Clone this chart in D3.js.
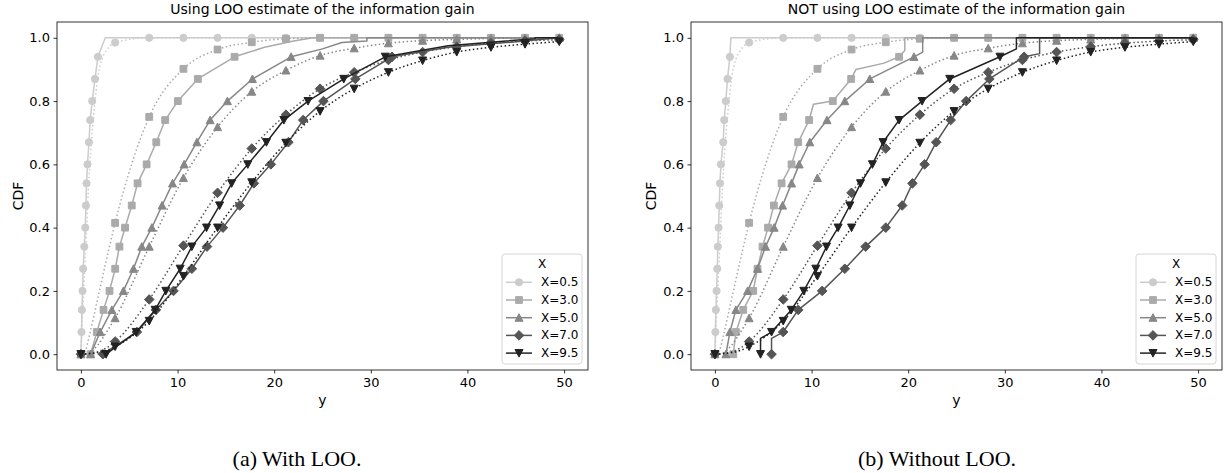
<!DOCTYPE html>
<html>
<head>
<meta charset="utf-8">
<script src="https://cdn.jsdelivr.net/npm/d3@7"></script>
<style>
  body { margin: 0; background: #fff; }
  svg text { font-family: "DejaVu Sans", sans-serif; fill: #000; }
</style>
</head>
<body>
<svg id="chart" width="1228" height="473"></svg>
<script>
// series names (legend) and their grey levels
const seriesNames = ["X=0.5", "X=3.0", "X=5.0", "X=7.0", "X=9.5"];
const seriesColors = ["#cccccc", "#aaaaaa", "#878787", "#555555", "#222222"];
const seriesShapes = ["circle", "square", "triangle", "diamond", "triangleDown"];

// CDF levels where the empirical curves carry a marker
const levels = [0, 0.07, 0.14, 0.2, 0.27, 0.34, 0.4, 0.47, 0.54, 0.6, 0.67, 0.74, 0.8, 0.87, 0.94];

// theoretical CDF (dotted), same in both panels, markers at theoryX
const theoryX = [0, 3.54, 7.07, 10.61, 14.14, 17.68, 21.21, 24.75, 28.28, 31.82, 35.36, 38.89, 42.43, 45.96, 49.5];
const theoryY = [
  [0, 0.985, 1, 1, 1, 1, 1, 1, 1, 1, 1, 1, 1, 1, 1],
  [0, 0.415, 0.75, 0.902, 0.963, 0.986, 0.997, 1, 1, 1, 1, 1, 1, 1, 1],
  [0, 0.114, 0.34, 0.557, 0.718, 0.83, 0.897, 0.944, 0.967, 0.983, 0.991, 0.995, 0.998, 0.999, 1],
  [0, 0.04, 0.173, 0.343, 0.51, 0.65, 0.757, 0.839, 0.891, 0.93, 0.955, 0.972, 0.983, 0.99, 0.994],
  [0, 0.024, 0.105, 0.247, 0.4, 0.543, 0.668, 0.768, 0.839, 0.891, 0.928, 0.955, 0.97, 0.98, 0.988]
];
// extra points of the dotted curves near the origin (no marker)
const theoryHead = [
  [[0.44, 0.3], [0.88, 0.58], [1.33, 0.76], [1.77, 0.88], [2.2, 0.935], [2.65, 0.96]],
  [[0.44, 0.01], [0.88, 0.06], [1.77, 0.18], [2.65, 0.3]],
  [[0.88, 0.005], [1.77, 0.03], [2.65, 0.07]],
  [[1.77, 0.008], [2.65, 0.02]],
  [[1.77, 0.005], [2.65, 0.012]]
];

// empirical CDF with LOO: x where each curve passes the marker levels
const looLevelX = [
  [0, 0.06, 0.1, 0.17, 0.23, 0.35, 0.45, 0.52, 0.58, 0.68, 0.83, 0.96, 1.17, 1.45, 1.76],
  [1.0, 1.65, 2.34, 2.96, 3.55, 3.99, 4.57, 5.26, 5.86, 6.8, 7.8, 8.72, 10.03, 12.1, 15.9],
  [1.0, 2.0, 3.2, 4.4, 5.44, 6.3, 7.34, 8.4, 9.48, 10.68, 12.0, 13.37, 15.16, 17.75, 21.75],
  [2.27, 5.79, 7.76, 9.58, 11.48, 13.05, 14.7, 16.43, 17.9, 19.65, 21.47, 23.0, 25.1, 28.4, 32.2],
  [2.6, 5.72, 7.68, 8.79, 10.27, 11.48, 13.0, 14.35, 15.6, 17.27, 19.2, 21.0, 23.5, 27.2, 31.5]
];
// other vertices of those curves (tails, jumps)
const looExtra = [
  [[2.52, 1], [49.5, 1]],
  [[19, 0.97], [22, 0.99], [24, 1], [49.5, 1]],
  [[25, 0.965], [27, 0.985], [29.6, 0.99], [29.6, 1], [49.5, 1]],
  [[38, 0.97], [44, 0.985], [49.5, 1]],
  [[38, 0.975], [44, 0.99], [47, 0.997], [47, 1], [49.5, 1]]
];

// empirical CDF without LOO
const noLooLevelX = [
  [0, 0.05, 0.1, 0.17, 0.24, 0.3, 0.38, 0.45, 0.52, 0.62, 0.86, 0.96, 1.13, 1.3, 1.55],
  [1.9, 2.17, 2.93, 3.96, 4.41, 4.93, 5.5, 6.1, 6.9, 7.93, 8.62, 9.75, 12.2, 14.1, 19.06],
  [1.14, 1.55, 2.17, 3.38, 4.41, 5.24, 6.13, 7.0, 7.93, 8.72, 9.82, 11.6, 13.44, 16.03, 20.6],
  [5.86, 7.06, 8.62, 11.1, 13.44, 15.6, 17.68, 19.38, 20.44, 21.7, 22.9, 24.4, 26.0, 28.4, 32.0],
  [4.72, 5.86, 7.9, 9.2, 10.44, 11.55, 12.75, 13.96, 15.07, 16.3, 17.4, 19.06, 21.44, 24.3, 29.5]
];
const noLooExtra = [
  [[1.65, 1], [49.5, 1]],
  [[10.2, 0.79], [14.6, 0.9], [17.5, 0.92], [19.65, 0.96], [19.65, 1], [49.5, 1]],
  [[21.5, 0.955], [21.5, 1], [49.5, 1]],
  [[5.86, 0.05], [33.6, 0.95], [33.6, 1], [49.5, 1]],
  [[4.72, 0.05], [31.2, 0.965], [31.2, 1], [49.5, 1]]
];

const xTicks = [0, 10, 20, 30, 40, 50];
const yTicks = [0, 0.2, 0.4, 0.6, 0.8, 1.0];

const panels = [
  { title: "Using LOO estimate of the information gain", caption: "(a) With LOO.",
    levelX: looLevelX, extra: looExtra, left: 57, right: 588, captionX: 297, ylabelX: 23 },
  { title: "NOT using LOO estimate of the information gain", caption: "(b) Without LOO.",
    levelX: noLooLevelX, extra: noLooExtra, left: 691, right: 1222, captionX: 937, ylabelX: 656 }
];

const svg = d3.select("#chart");
const plotTop = 22, plotBottom = 370;

// marker shapes, centred on 0,0
function markerPath(shape) {
  switch (shape) {
    case "circle": return d3.symbol(d3.symbolCircle, Math.PI * 3.6 * 3.6)();
    case "square": return "M-3.4,-3.4H3.4V3.4H-3.4Z";
    case "triangle": return "M0,-4L4,3.6L-4,3.6Z";
    case "diamond": return "M0,-4.8L4.8,0L0,4.8L-4.8,0Z";
    case "triangleDown": return "M0,4L4,-3.6L-4,-3.6Z";
  }
}

function drawMarkers(g, pts, x, y, color, shape) {
  g.selectAll(null)
    .data(pts)
    .enter()
    .append("path")
    .attr("d", markerPath(shape))
    .attr("transform", (d) => `translate(${x(d[0])},${y(d[1])})`)
    .attr("fill", color)
    .attr("stroke", color)
    .attr("stroke-width", 1);
}

function drawPanel(p) {
  const g = svg.append("g");
  const x = d3.scaleLinear().domain([-2.475, 52.475]).range([p.left, p.right]);
  const y = d3.scaleLinear().domain([-0.05, 1.05]).range([plotBottom, plotTop]);

  const byXY = (a, b) => a[0] - b[0] || a[1] - b[1];
  const linear = d3.line().x((d) => x(d[0])).y((d) => y(d[1]));
  const smooth = d3.line().x((d) => x(d[0])).y((d) => y(d[1])).curve(d3.curveMonotoneX);

  seriesNames.forEach((name, i) => {
    const color = seriesColors[i];
    const shape = seriesShapes[i];

    // empirical (solid)
    const empMarks = p.levelX[i].map((v, k) => [v, levels[k]]);
    const empPts = empMarks.concat(p.extra[i]).sort(byXY);
    g.append("path")
      .attr("d", linear(empPts))
      .attr("fill", "none")
      .attr("stroke", color)
      .attr("stroke-width", 1.5)
      .attr("stroke-linejoin", "round");
    drawMarkers(g, empMarks, x, y, color, shape);

    // theoretical (dotted)
    const thMarks = theoryX.map((v, k) => [v, theoryY[i][k]]);
    const thPts = thMarks.concat(theoryHead[i]).sort(byXY);
    g.append("path")
      .attr("d", smooth(thPts))
      .attr("fill", "none")
      .attr("stroke", color)
      .attr("stroke-width", 1.5)
      .attr("stroke-dasharray", "1.5,2.5");
    drawMarkers(g, thMarks, x, y, color, shape);
  });

  // axes
  const xAxis = g.append("g")
    .attr("transform", `translate(0,${plotBottom})`)
    .call(d3.axisBottom(x).tickValues(xTicks).tickFormat(d3.format("d")).tickSize(3.5).tickPadding(4.5));
  const yAxis = g.append("g")
    .attr("transform", `translate(${p.left},0)`)
    .call(d3.axisLeft(y).tickValues(yTicks).tickFormat(d3.format(".1f")).tickSize(3.5).tickPadding(3.5));
  [xAxis, yAxis].forEach((a) => {
    a.select(".domain").remove();
    a.selectAll("text").style("font-family", "DejaVu Sans").style("font-size", "13px");
    a.selectAll("line").attr("stroke-width", 0.8);
  });

  // frame
  g.append("rect")
    .attr("x", p.left).attr("y", plotTop)
    .attr("width", p.right - p.left).attr("height", plotBottom - plotTop)
    .attr("fill", "none").attr("stroke", "#000").attr("stroke-width", 0.8);

  // title and axis labels
  const cx = (p.left + p.right) / 2;
  g.append("text").attr("x", cx).attr("y", 14).attr("text-anchor", "middle")
    .style("font-size", "14px").text(p.title);
  g.append("text").attr("x", cx).attr("y", 405).attr("text-anchor", "middle")
    .style("font-size", "14px").text("y");
  g.append("text")
    .attr("transform", `translate(${p.ylabelX},${(plotTop + plotBottom) / 2}) rotate(-90)`)
    .attr("text-anchor", "middle").style("font-size", "14px").text("CDF");

  // legend
  const lw = 80, lh = 110;
  const lx = p.right - 6 - lw, ly = plotBottom - 6 - lh;
  const lg = g.append("g");
  lg.append("rect").attr("x", lx).attr("y", ly).attr("width", lw).attr("height", lh)
    .attr("rx", 3).attr("fill", "#fff").attr("fill-opacity", 0.8)
    .attr("stroke", "#d6d6d6").attr("stroke-width", 1);
  lg.append("text").attr("x", lx + lw / 2).attr("y", ly + 10)
    .attr("text-anchor", "middle").attr("dominant-baseline", "central")
    .style("font-size", "12px").text("X");
  seriesNames.forEach((name, i) => {
    const yy = ly + 28.3 + i * 17.7;
    lg.append("line").attr("x1", lx + 4).attr("x2", lx + 30).attr("y1", yy).attr("y2", yy)
      .attr("stroke", seriesColors[i]).attr("stroke-width", 1.5);
    lg.append("path").attr("d", markerPath(seriesShapes[i]))
      .attr("transform", `translate(${lx + 17},${yy})`)
      .attr("fill", seriesColors[i]).attr("stroke", seriesColors[i]).attr("stroke-width", 1);
    lg.append("text").attr("x", lx + 39).attr("y", yy).attr("dominant-baseline", "central")
      .style("font-size", "12px").text(name);
  });

  // caption
  svg.append("text").attr("x", p.captionX).attr("y", 466).attr("text-anchor", "middle")
    .style("font-family", "Liberation Serif, serif").style("font-size", "22px").text(p.caption);
}

panels.forEach(drawPanel);
</script>
</body>
</html>
